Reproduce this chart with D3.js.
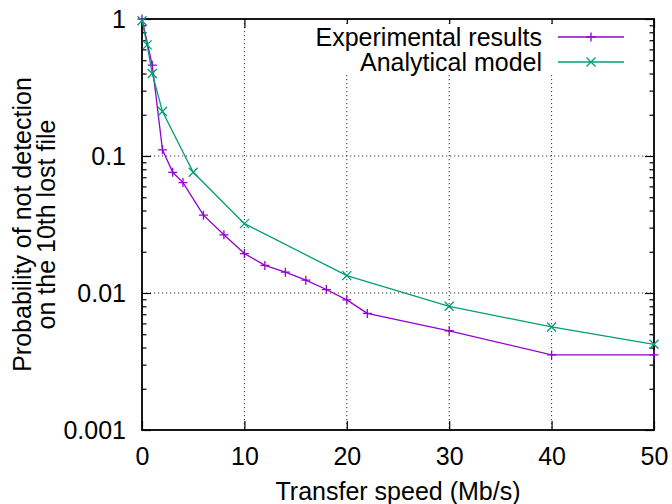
<!DOCTYPE html>
<html>
<head>
<meta charset="utf-8">
<script src="https://cdn.jsdelivr.net/npm/d3@7"></script>
<style>
  html, body { margin: 0; padding: 0; background: #fff; }
  svg { display: block; }
  text { font-family: "Liberation Sans", Arial, Helvetica, sans-serif; fill: #000; }
</style>
</head>
<body>
<svg id="chart" width="672" height="504"></svg>
<script>
// ---- data ----
const expSpeed = [0, 1, 2, 3, 4, 6, 8, 10, 12, 14, 16, 18, 20, 22, 30, 40, 50];
const expProb  = [1.0, 0.46, 0.111, 0.076, 0.064, 0.037, 0.0266, 0.0194, 0.0159, 0.0142, 0.0124, 0.0106, 0.0089, 0.0071, 0.0053, 0.00353, 0.00353];
const modSpeed = [0, 0.5, 1, 2, 5, 10, 20, 30, 40, 50];
const modProb  = [0.97, 0.647, 0.40, 0.211, 0.076, 0.0321, 0.0134, 0.0080, 0.00565, 0.00422];
const seriesNames = ["Experimental results", "Analytical model"];
const xTicks = [0, 10, 20, 30, 40, 50];
const yTicks = [0.001, 0.01, 0.1, 1];
const yTickLabels = ["0.001", "0.01", "0.1", "1"];
const xLabel = "Transfer speed (Mb/s)";
const yLabelLines = ["Probability of not detection", "on the 10th lost file"];

// ---- layout ----
const L = 142, R = 654, T = 19, B = 430;
const FS = 25;
const colors = ["#9400d3", "#009e73"];
const svg = d3.select("#chart");
const x = d3.scaleLinear().domain([0, 50]).range([L, R]);
const y = d3.scaleLog().domain([0.001, 1]).range([B, T]);

// minor ticks for log axis
const minorTicks = [];
[0.001, 0.01, 0.1].forEach(d => { for (let k = 2; k <= 9; k++) minorTicks.push(d * k); });

// grid
const grid = svg.append("g").attr("stroke", "#333").attr("stroke-width", 1).attr("stroke-dasharray", "1.2,2.8");
grid.selectAll("line.gx").data(xTicks.filter(d => d > 0 && d < 50)).join("line")
  .attr("x1", d => x(d)).attr("x2", d => x(d)).attr("y1", T).attr("y2", B);
grid.selectAll("line.gy").data(yTicks.filter(d => d > 0.001 && d < 1)).join("line")
  .attr("x1", L).attr("x2", R).attr("y1", d => y(d)).attr("y2", d => y(d));

// axes (ticks inward)
const fmtY = d => yTickLabels[yTicks.indexOf(d)];
const axL = svg.append("g").attr("transform", `translate(${L},0)`)
  .call(d3.axisLeft(y).tickValues(yTicks).tickFormat(fmtY).tickSizeInner(-9).tickSizeOuter(0).tickPadding(16));
const axR = svg.append("g").attr("transform", `translate(${R},0)`)
  .call(d3.axisRight(y).tickValues(yTicks).tickFormat("").tickSizeInner(-9).tickSizeOuter(0));
const axLm = svg.append("g").attr("transform", `translate(${L},0)`)
  .call(d3.axisLeft(y).tickValues(minorTicks).tickFormat("").tickSizeInner(-4.5).tickSizeOuter(0));
const axRm = svg.append("g").attr("transform", `translate(${R},0)`)
  .call(d3.axisRight(y).tickValues(minorTicks).tickFormat("").tickSizeInner(-4.5).tickSizeOuter(0));
const axB = svg.append("g").attr("transform", `translate(0,${B})`)
  .call(d3.axisBottom(x).tickValues(xTicks).tickFormat(d3.format("d")).tickSizeInner(-9).tickSizeOuter(0).tickPadding(17));
const axT = svg.append("g").attr("transform", `translate(0,${T})`)
  .call(d3.axisTop(x).tickValues(xTicks).tickFormat("").tickSizeInner(-9).tickSizeOuter(0));
[axL, axR, axLm, axRm, axB, axT].forEach(g => {
  g.select(".domain").remove();
  g.selectAll(".tick line").attr("stroke", "#000").attr("stroke-width", 1.2);
  g.selectAll(".tick text").attr("font-size", FS).attr("font-family", "Liberation Sans, Arial, sans-serif").attr("fill", "#000");
});
axB.selectAll(".tick text").attr("dy", "0.72em");

// border
svg.append("rect").attr("x", L).attr("y", T).attr("width", R - L).attr("height", B - T)
  .attr("fill", "none").attr("stroke", "#000").attr("stroke-width", 1.8);

// series
const lineGen = d3.line().x(d => x(d[0])).y(d => y(d[1]));
const series = [
  { name: seriesNames[0], pts: expSpeed.map((s, i) => [s, expProb[i]]), color: colors[0], mark: "plus" },
  { name: seriesNames[1], pts: modSpeed.map((s, i) => [s, modProb[i]]), color: colors[1], mark: "cross" }
];
function marker(g, cx, cy, type, color) {
  const s = 4.5;
  const p = type === "plus"
    ? `M${cx - s},${cy}H${cx + s}M${cx},${cy - s}V${cy + s}`
    : `M${cx - s},${cy - s}L${cx + s},${cy + s}M${cx - s},${cy + s}L${cx + s},${cy - s}`;
  g.append("path").attr("d", p).attr("stroke", color).attr("stroke-width", 1.3).attr("fill", "none");
}

// legend background (opaque key)
const legendRows = [37, 62];
svg.append("rect").attr("x", 312).attr("y", 24).attr("width", 318).attr("height", 50).attr("fill", "#fff");

series.forEach((s, i) => {
  const g = svg.append("g");
  g.append("path").datum(s.pts).attr("d", lineGen).attr("fill", "none")
    .attr("stroke", s.color).attr("stroke-width", 1.3);
  s.pts.forEach(d => marker(g, x(d[0]), y(d[1]), s.mark, s.color));
  // legend
  const ly = legendRows[i];
  svg.append("text").attr("x", 542).attr("y", ly).attr("dy", "0.36em")
    .attr("text-anchor", "end").attr("font-size", FS).text(s.name);
  svg.append("line").attr("x1", 558).attr("x2", 624).attr("y1", ly).attr("y2", ly)
    .attr("stroke", s.color).attr("stroke-width", 1.3);
  marker(svg, 591, ly, s.mark, s.color);
});

// axis labels
svg.append("text").attr("x", (L + R) / 2).attr("y", 500).attr("text-anchor", "middle")
  .attr("font-size", FS).text(xLabel);
yLabelLines.forEach((t, i) => {
  svg.append("text").attr("transform", `translate(${31 + i * 24},${(T + B) / 2}) rotate(-90)`)
    .attr("text-anchor", "middle").attr("font-size", FS).text(t);
});
</script>
</body>
</html>
